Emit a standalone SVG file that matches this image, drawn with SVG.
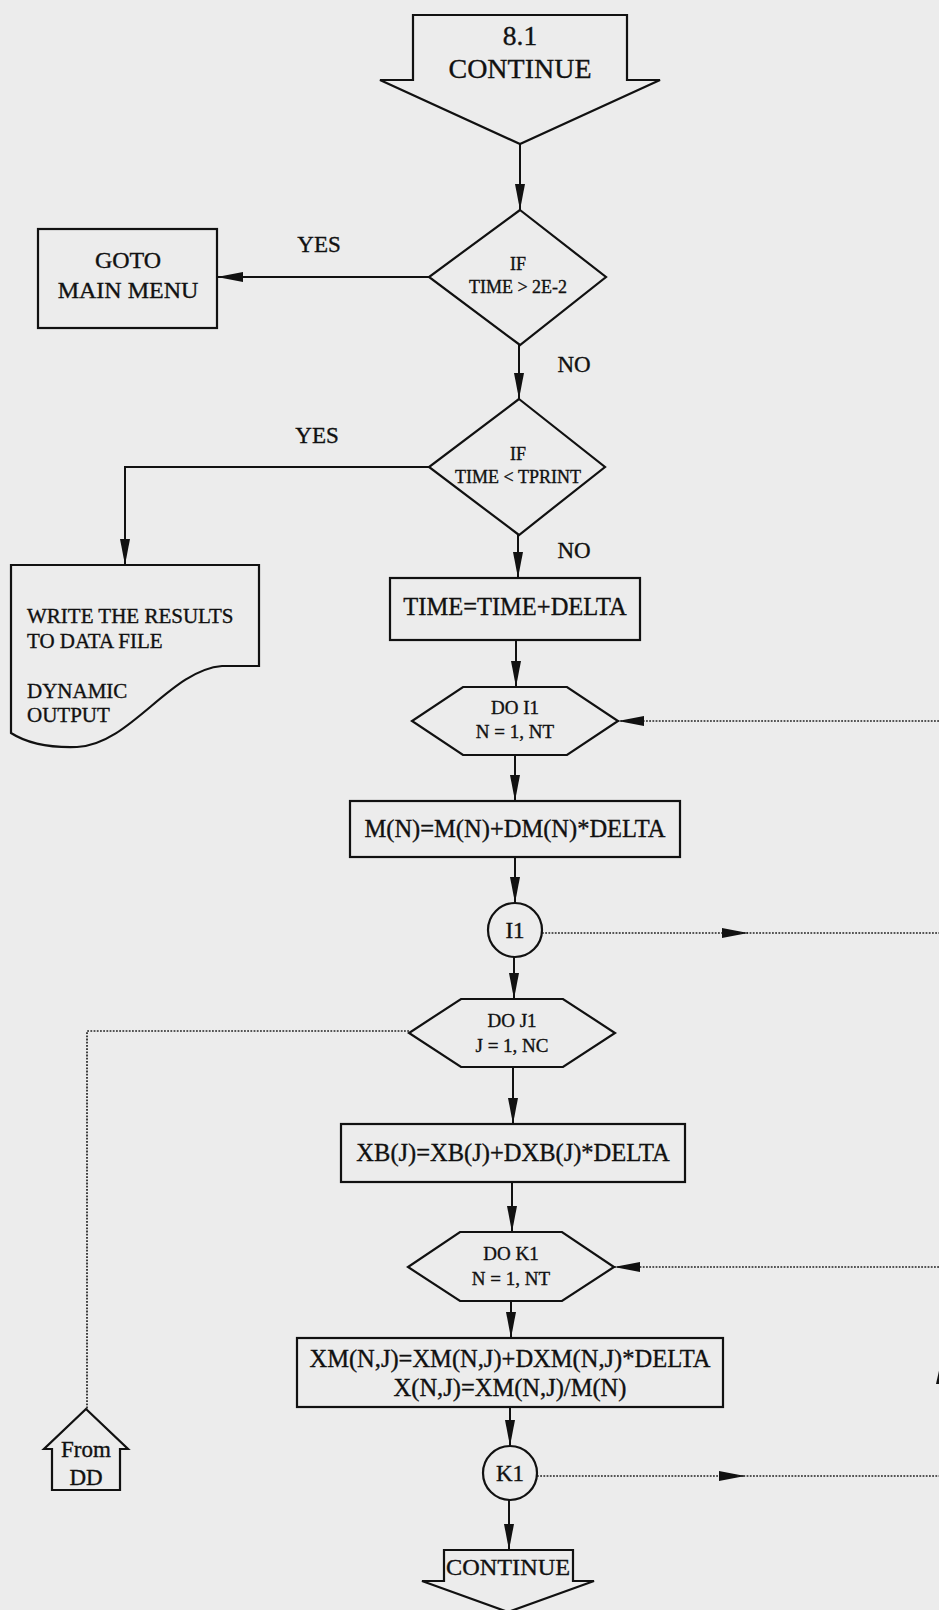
<svg xmlns="http://www.w3.org/2000/svg" width="939" height="1610" viewBox="0 0 939 1610">
<defs>
<style>
.s{fill:none;stroke:#111;stroke-width:2.2}
.c{fill:none;stroke:#111;stroke-width:2}
.d{fill:none;stroke:#222;stroke-width:1.7;stroke-dasharray:1.8 1.4}
text{font-family:"Liberation Serif","Times New Roman",serif;fill:#111;stroke:#111;stroke-width:0.35;text-anchor:middle}
.l{text-anchor:start}
.b{font-size:24.5px}
.h{font-size:19px}
.q{font-size:18px}
.y{font-size:23px}
</style>
<marker id="ah" markerUnits="userSpaceOnUse" markerWidth="28" markerHeight="12" refX="26" refY="5" orient="auto">
<path d="M0,0 L26,5 L0,10 z" fill="#111"/>
</marker>
</defs>
<rect x="0" y="0" width="939" height="1610" fill="#ececec"/>

<g id="connectors">
<line class="c" x1="520" y1="144" x2="520" y2="210" marker-end="url(#ah)"/>
<line class="c" x1="429" y1="277" x2="217" y2="277" marker-end="url(#ah)"/>
<line class="c" x1="519" y1="345" x2="519" y2="399" marker-end="url(#ah)"/>
<polyline class="c" points="429,467 125,467 125,565" marker-end="url(#ah)"/>
<line class="c" x1="518" y1="535" x2="518" y2="578" marker-end="url(#ah)"/>
<line class="c" x1="516" y1="640" x2="516" y2="687" marker-end="url(#ah)"/>
<line class="d" x1="939" y1="721" x2="618" y2="721" marker-end="url(#ah)"/>
<line class="c" x1="515" y1="755" x2="515" y2="801" marker-end="url(#ah)"/>
<line class="c" x1="515" y1="857" x2="515" y2="903" marker-end="url(#ah)"/>
<line class="d" x1="542" y1="933" x2="748" y2="933" marker-end="url(#ah)"/>
<line class="d" x1="740" y1="933" x2="939" y2="933"/>
<line class="c" x1="514" y1="957" x2="514" y2="999" marker-end="url(#ah)"/>
<polyline class="d" points="409,1031 87,1031 87,1409"/>
<line class="c" x1="513" y1="1067" x2="513" y2="1124" marker-end="url(#ah)"/>
<line class="c" x1="512" y1="1182" x2="512" y2="1232" marker-end="url(#ah)"/>
<line class="d" x1="939" y1="1267" x2="614" y2="1267" marker-end="url(#ah)"/>
<line class="c" x1="511" y1="1301" x2="511" y2="1338" marker-end="url(#ah)"/>
<line class="c" x1="510" y1="1407" x2="510" y2="1446" marker-end="url(#ah)"/>
<line class="d" x1="537" y1="1476" x2="745" y2="1476" marker-end="url(#ah)"/>
<line class="d" x1="737" y1="1476" x2="939" y2="1476"/>
<line class="c" x1="509" y1="1500" x2="509" y2="1550" marker-end="url(#ah)"/>
<polygon points="936,1384 946,1384 941,1362" fill="#111"/>
</g>

<g id="start">
<polygon class="s" points="413,15 627,15 627,80 660,80 520,144 380,80 413,80"/>
<text x="520" y="45" font-size="27.5">8.1</text>
<text x="520" y="78" font-size="28" textLength="143" lengthAdjust="spacingAndGlyphs">CONTINUE</text>
</g>

<g id="if1">
<polygon class="s" points="520,210 606,277 520,345 429,277"/>
<text class="q" x="518" y="270">IF</text>
<text class="q" x="518" y="293">TIME &gt; 2E-2</text>
</g>
<text class="y" x="319" y="252">YES</text>
<text class="y" x="574" y="372">NO</text>

<g id="goto">
<rect class="s" x="38" y="229" width="179" height="99"/>
<text x="128" y="268" font-size="24">GOTO</text>
<text x="128" y="298" font-size="24">MAIN MENU</text>
</g>

<g id="if2">
<polygon class="s" points="519,399 605,467 519,535 429,467"/>
<text class="q" x="518" y="460">IF</text>
<text class="q" x="518" y="483">TIME &lt; TPRINT</text>
</g>
<text class="y" x="317" y="443">YES</text>
<text class="y" x="574" y="558">NO</text>

<g id="output">
<path class="s" d="M11,565 H259 V666 H222 C170,670 130,745 77,747 C45,748 25,742 11,733 Z"/>
<text class="l" x="27" y="623" font-size="21">WRITE THE RESULTS</text>
<text class="l" x="27" y="648" font-size="21">TO DATA FILE</text>
<text class="l" x="27" y="698" font-size="21">DYNAMIC</text>
<text class="l" x="27" y="722" font-size="21">OUTPUT</text>
</g>

<g id="time">
<rect class="s" x="390" y="578" width="250" height="62"/>
<text class="b" x="515" y="615">TIME=TIME+DELTA</text>
</g>

<g id="doi1">
<polygon class="s" points="463,687 567,687 618,721 567,755 463,755 412,721"/>
<text class="h" x="515" y="714">DO I1</text>
<text class="h" x="515" y="738">N = 1, NT</text>
</g>

<g id="mn">
<rect class="s" x="350" y="801" width="330" height="56"/>
<text class="b" x="515" y="837">M(N)=M(N)+DM(N)*DELTA</text>
</g>

<g id="i1">
<circle class="s" cx="515" cy="930" r="27"/>
<text class="y" x="515" y="938">I1</text>
</g>

<g id="doj1">
<polygon class="s" points="461,999 563,999 615,1033 563,1067 461,1067 409,1033"/>
<text class="h" x="512" y="1027">DO J1</text>
<text class="h" x="512" y="1052">J = 1, NC</text>
</g>

<g id="xb">
<rect class="s" x="341" y="1124" width="344" height="58"/>
<text class="b" x="513" y="1161">XB(J)=XB(J)+DXB(J)*DELTA</text>
</g>

<g id="dok1">
<polygon class="s" points="460,1232 562,1232 614,1267 562,1301 460,1301 408,1267"/>
<text class="h" x="511" y="1260">DO K1</text>
<text class="h" x="511" y="1285">N = 1, NT</text>
</g>

<g id="xm">
<rect class="s" x="297" y="1338" width="426" height="69"/>
<text class="b" x="510" y="1367">XM(N,J)=XM(N,J)+DXM(N,J)*DELTA</text>
<text class="b" x="510" y="1396">X(N,J)=XM(N,J)/M(N)</text>
</g>

<g id="k1">
<circle class="s" cx="510" cy="1473" r="27"/>
<text class="y" x="510" y="1481">K1</text>
</g>

<g id="end">
<polygon class="s" points="444,1550 573,1550 573,1581 594,1581 508,1612 422,1581 444,1581"/>
<text x="508" y="1575" font-size="24" textLength="124" lengthAdjust="spacingAndGlyphs">CONTINUE</text>
</g>

<g id="fromdd">
<polygon class="s" points="86,1409 128,1449 120,1449 120,1490 52,1490 52,1449 44,1449"/>
<text class="y" x="86" y="1457">From</text>
<text class="y" x="86" y="1485">DD</text>
</g>
</svg>
